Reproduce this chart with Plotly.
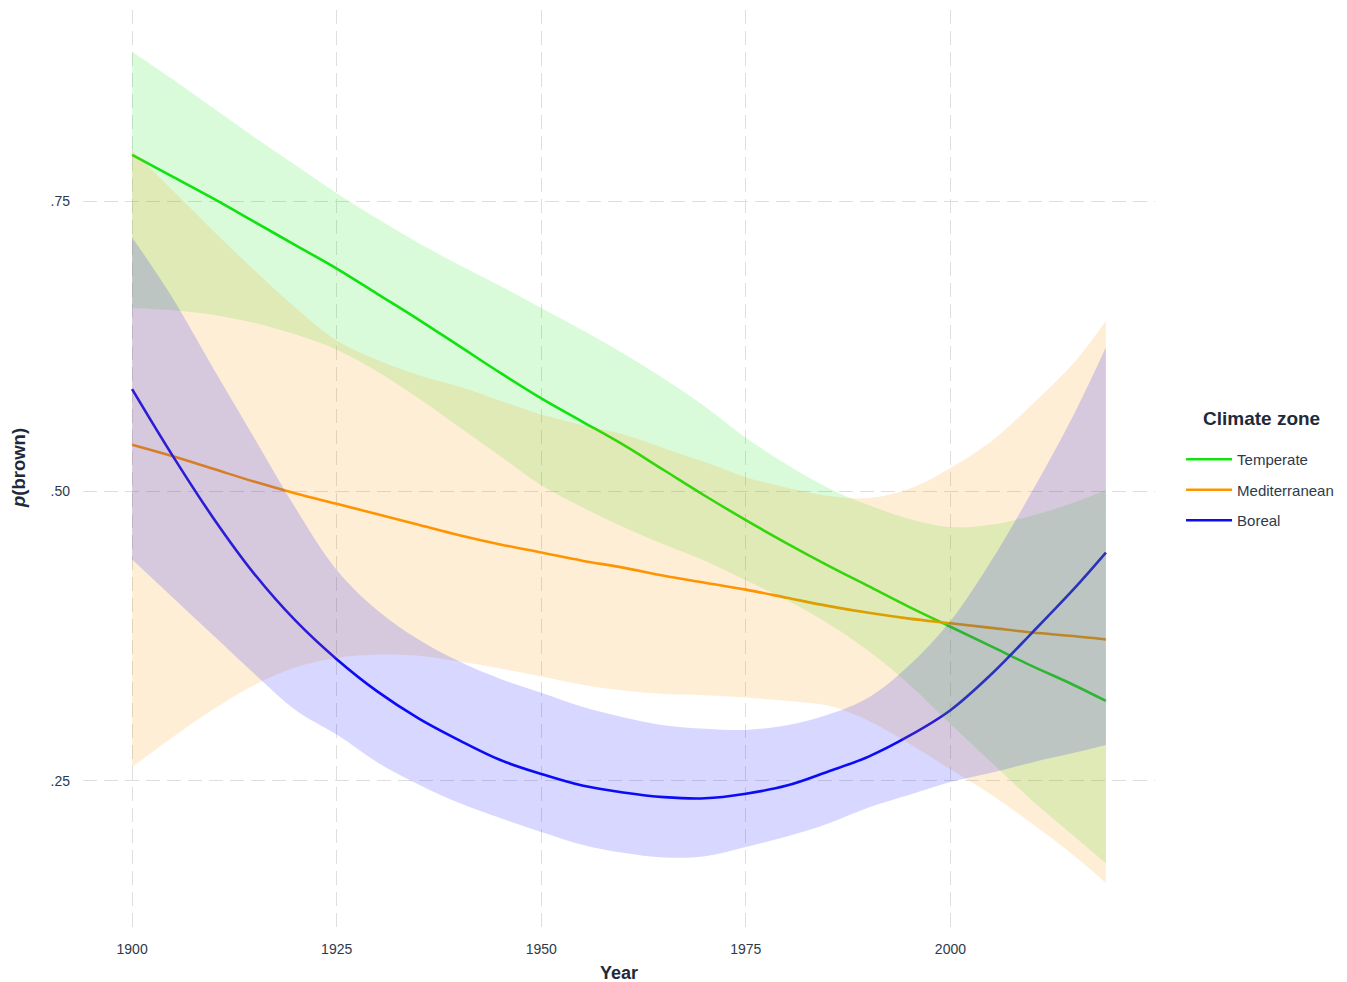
import plotly.graph_objects as go

# ---- data ----
years = [1900, 1905, 1910, 1915, 1920, 1925, 1930, 1935, 1940, 1945, 1950, 1955, 1960,
         1965, 1970, 1975, 1980, 1985, 1990, 1995, 2000, 2005, 2010, 2015, 2019]

temperate_fit = [0.790, 0.771, 0.752, 0.732, 0.712, 0.692, 0.670, 0.648, 0.625, 0.602, 0.580, 0.560, 0.540,
                 0.518, 0.496, 0.475, 0.455, 0.436, 0.418, 0.400, 0.383, 0.366, 0.349, 0.333, 0.319]
temperate_hi = [0.879, 0.855, 0.830, 0.805, 0.781, 0.757, 0.735, 0.714, 0.695, 0.677, 0.658, 0.639, 0.619,
                0.597, 0.573, 0.546, 0.523, 0.503, 0.488, 0.476, 0.469, 0.471, 0.479, 0.490, 0.501]
temperate_lo = [0.658, 0.656, 0.652, 0.645, 0.635, 0.622, 0.603, 0.580, 0.555, 0.530, 0.505, 0.486, 0.469,
                0.454, 0.440, 0.423, 0.406, 0.386, 0.362, 0.333, 0.299, 0.266, 0.233, 0.203, 0.179]

medit_fit = [0.540, 0.530, 0.519, 0.508, 0.498, 0.489, 0.480, 0.471, 0.462, 0.454, 0.447, 0.440, 0.434,
             0.427, 0.421, 0.415, 0.408, 0.401, 0.395, 0.390, 0.386, 0.382, 0.378, 0.375, 0.372]
medit_hi = [0.794, 0.759, 0.724, 0.690, 0.658, 0.630, 0.613, 0.600, 0.590, 0.578, 0.566, 0.557, 0.549,
            0.537, 0.525, 0.512, 0.503, 0.496, 0.494, 0.502, 0.520, 0.543, 0.575, 0.610, 0.647]
medit_lo = [0.262, 0.288, 0.312, 0.333, 0.348, 0.356, 0.359, 0.358, 0.353, 0.347, 0.340, 0.333, 0.328,
            0.325, 0.324, 0.322, 0.319, 0.315, 0.302, 0.282, 0.260, 0.238, 0.213, 0.186, 0.162]

boreal_fit = [0.588, 0.530, 0.476, 0.428, 0.388, 0.355, 0.327, 0.304, 0.285, 0.268, 0.256, 0.246, 0.240,
              0.236, 0.235, 0.239, 0.246, 0.258, 0.271, 0.289, 0.311, 0.342, 0.378, 0.415, 0.447]
boreal_hi = [0.719, 0.666, 0.605, 0.545, 0.485, 0.432, 0.397, 0.372, 0.353, 0.338, 0.326, 0.314, 0.305,
             0.298, 0.295, 0.294, 0.298, 0.307, 0.322, 0.350, 0.388, 0.440, 0.500, 0.565, 0.624]
boreal_lo = [0.441, 0.408, 0.375, 0.342, 0.311, 0.290, 0.266, 0.247, 0.231, 0.218, 0.206, 0.195, 0.188,
             0.184, 0.185, 0.193, 0.202, 0.213, 0.227, 0.238, 0.249, 0.257, 0.266, 0.274, 0.281]

zones = ["Temperate", "Mediterranean", "Boreal"]
fits = [temperate_fit, medit_fit, boreal_fit]
his = [temperate_hi, medit_hi, boreal_hi]
los = [temperate_lo, medit_lo, boreal_lo]

y_ticks = [0.25, 0.50, 0.75]
y_tick_labels = [".25", ".50", ".75"]
x_ticks = [1900, 1925, 1950, 1975, 2000]

line_colors = ["#12e212", "#ff9400", "#0a0af5"]
fill_colors = ["rgba(0,230,0,0.15)", "rgba(255,150,0,0.16)", "rgba(20,20,255,0.17)"]

text_col = "#2E3A4B"
title_col = "#1e2a3a"
font_fam = "Liberation Sans, Arial, sans-serif"

fig = go.Figure()

# lines first (ribbons are drawn over them, as in the reference)
for i, z in enumerate(zones):
    fig.add_trace(go.Scatter(
        x=years, y=fits[i], mode="lines", name=z,
        line=dict(color=line_colors[i], width=2.6, shape="spline"),
        legendgroup=z, showlegend=True))

for i, z in enumerate(zones):
    fig.add_trace(go.Scatter(
        x=years, y=los[i], mode="lines",
        line=dict(width=0, shape="spline", color=fill_colors[i]),
        showlegend=False, hoverinfo="skip", legendgroup=z))
    fig.add_trace(go.Scatter(
        x=years, y=his[i], mode="lines", fill="tonexty",
        fillcolor=fill_colors[i],
        line=dict(width=0, shape="spline", color=fill_colors[i]),
        showlegend=False, hoverinfo="skip", legendgroup=z))

grid = dict(showgrid=True, gridcolor="#dedede", gridwidth=1.3, griddash="14px,7px",
            zeroline=False, showline=False, ticks="", automargin=False)

fig.update_layout(
    width=1347, height=982,
    margin=dict(l=75, r=200, t=2, b=63),
    paper_bgcolor="white", plot_bgcolor="white",
    font=dict(family=font_fam, color=text_col, size=14),
    xaxis=dict(range=[1894.0, 2025.0], tickvals=x_ticks,
               ticktext=[str(v) for v in x_ticks],
               tickfont=dict(size=14, color=text_col),
               ticklabelstandoff=12,
               title=dict(text="<b>Year</b>", font=dict(size=18, color=title_col), standoff=10),
               **grid),
    yaxis=dict(range=[0.124, 0.915], tickvals=y_ticks, ticktext=y_tick_labels,
               tickfont=dict(size=14, color=text_col),
               ticklabelstandoff=12,
               **grid),
    legend=dict(
        x=1.0243, xanchor="left", y=0.5278, yanchor="top",
        font=dict(size=15, color=text_col),
        itemwidth=46, tracegroupgap=8, traceorder="grouped",
        bgcolor="rgba(0,0,0,0)"),
    showlegend=True,
    annotations=[
        dict(text="<b>Climate zone</b>", xref="paper", yref="paper",
             x=1.0998, y=0.555, xanchor="center", yanchor="middle",
             showarrow=False, font=dict(size=19, color=title_col)),
        dict(text="<b><i>p</i>(brown)</b>", xref="paper", yref="paper",
             x=-0.0606, y=0.5005, xanchor="center", yanchor="middle", textangle=-90,
             showarrow=False, font=dict(size=18.5, color=title_col)),
    ],
)

fig.write_html("out.html")
